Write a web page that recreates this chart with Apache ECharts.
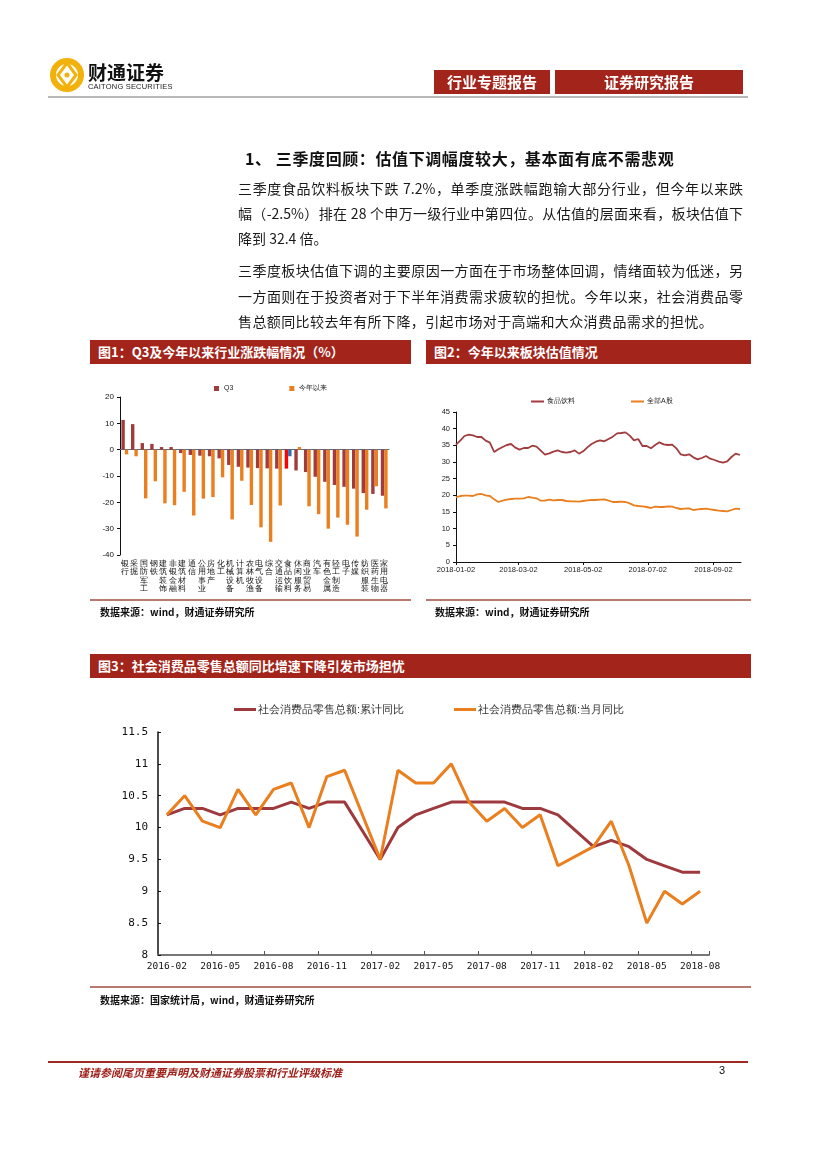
<!DOCTYPE html>
<html><head><meta charset="utf-8">
<script src="https://cdn.jsdelivr.net/npm/echarts@6/dist/echarts.min.js"></script>
<style>
body{margin:0;background:#fff;font-family:"Noto Sans CJK SC",sans-serif;}
#page{position:relative;width:827px;height:1170px;overflow:hidden;background:#fff;}
#chart{position:absolute;left:0;top:0;width:827px;height:1170px;}
.t{position:absolute;white-space:nowrap;z-index:2;}
.bar{position:absolute;background:#A3241B;color:#fff;font-weight:bold;font-size:13px;line-height:24px;z-index:2;}
.p{position:absolute;left:238px;width:505px;font-size:14px;line-height:20px;color:#1a1a1a;white-space:nowrap;z-index:2;}
.j{text-align:justify;text-align-last:justify;white-space:normal;}
.src{position:absolute;font-size:10px;font-weight:bold;color:#111;z-index:2;}
.sep{position:absolute;height:2px;background:#B97A6E;z-index:2;}
</style></head>
<body><div id="page">
<div id="chart"></div>

<div class="t" style="left:88px;top:61px;font-size:19px;line-height:21px;font-weight:bold;color:#111;">财通证券</div>
<div class="t" style="left:88px;top:82px;font-size:7.5px;line-height:9px;font-family:'Liberation Sans',Arial;color:#222;letter-spacing:0.2px;">CAITONG SECURITIES</div>
<div class="bar" style="left:434px;top:70px;width:116px;height:24px;text-align:center;font-size:15px;">行业专题报告</div>
<div class="bar" style="left:555px;top:70px;width:188px;height:24px;text-align:center;font-size:15px;">证券研究报告</div>
<div style="position:absolute;left:48px;top:96px;width:700px;height:2px;background:#B8B8B8;"></div>

<div class="t" style="left:245px;top:146px;font-size:16px;font-weight:bold;color:#111;letter-spacing:0.6px;">1、 三季度回顾：估值下调幅度较大，基本面有底不需悲观</div>

<div class="p j" style="top:178px;">三季度食品饮料板块下跌 7.2%，单季度涨跌幅跑输大部分行业，但今年以来跌</div>
<div class="p j" style="top:203px;">幅（-2.5%）排在 28 个申万一级行业中第四位。从估值的层面来看，板块估值下</div>
<div class="p" style="top:228px;">降到 32.4 倍。</div>
<div class="p j" style="top:260px;">三季度板块估值下调的主要原因一方面在于市场整体回调，情绪面较为低迷，另</div>
<div class="p j" style="top:286px;">一方面则在于投资者对于下半年消费需求疲软的担忧。今年以来，社会消费品零</div>
<div class="p" style="top:311px;letter-spacing:0.4px;">售总额同比较去年有所下降，引起市场对于高端和大众消费品需求的担忧。</div>

<div class="bar" style="left:90px;top:340px;width:321px;height:24px;"><span style="padding-left:8px;">图1：Q3及今年以来行业涨跌幅情况（%）</span></div>
<div class="bar" style="left:426px;top:340px;width:325px;height:24px;"><span style="padding-left:8px;">图2：今年以来板块估值情况</span></div>
<div class="sep" style="left:90px;top:599px;width:321px;"></div>
<div class="sep" style="left:426px;top:599px;width:325px;"></div>
<div class="src" style="left:100px;top:604px;">数据来源：wind，财通证券研究所</div>
<div class="src" style="left:435px;top:604px;">数据来源：wind，财通证券研究所</div>

<div class="bar" style="left:90px;top:654px;width:661px;height:24px;"><span style="padding-left:8px;">图3：社会消费品零售总额同比增速下降引发市场担忧</span></div>
<div class="sep" style="left:90px;top:986px;width:661px;"></div>
<div class="src" style="left:100px;top:992px;">数据来源：国家统计局，wind，财通证券研究所</div>

<div style="position:absolute;left:48px;top:1061px;width:700px;height:1.5px;background:#9E2A22;"></div>
<div class="t" style="left:78px;top:1064px;font-size:11px;font-weight:bold;font-style:italic;color:#A0201A;">谨请参阅尾页重要声明及财通证券股票和行业评级标准</div>
<div class="t" style="left:719px;top:1064px;font-size:11px;color:#111;font-family:'Liberation Sans',Arial;">3</div>
</div>
<script>
// ---------- Chart 1 data ----------
const industries = ['银行','采掘','国防军工','钢铁','建筑装饰','非银金融','建筑材料','通信','公用事业','房地产','化工','机械设备','计算机','农林牧渔','电气设备','综合','交通运输','食品饮料','休闲服务','商业贸易','汽车','有色金属','轻工制造','电子','传媒','纺织服装','医药生物','家用电器'];
const q3Change = [11.3, 9.7, 2.5, 2.2, 1.0, 1.0, -1.3, -2.0, -2.3, -2.5, -3.3, -5.8, -6.5, -6.8, -7.0, -7.1, -7.2, -7.2, -7.9, -8.5, -10.3, -12.2, -13.4, -14.1, -14.8, -16.5, -16.8, -17.5];
const ytdChange = [-1.8, -2.5, -18.5, -12.0, -20.4, -21.1, -16.0, -25.0, -18.6, -18.0, -10.5, -26.5, -11.8, -21.0, -29.5, -35.0, -21.2, -2.5, 1.0, -21.5, -24.5, -30.0, -25.8, -28.5, -33.0, -22.8, -13.9, -22.3];
const chart1YTicks = [-40, 20, 10];

// ---------- Chart 2 data ----------
const peDates = ['2018-01-02','2018-01-06','2018-01-10','2018-01-14','2018-01-18','2018-01-22','2018-01-26','2018-01-30','2018-02-03','2018-02-07','2018-02-11','2018-02-15','2018-02-19','2018-02-23','2018-02-27','2018-03-03','2018-03-07','2018-03-11','2018-03-15','2018-03-19','2018-03-23','2018-03-27','2018-03-31','2018-04-04','2018-04-08','2018-04-12','2018-04-16','2018-04-20','2018-04-24','2018-04-28','2018-05-02','2018-05-06','2018-05-10','2018-05-14','2018-05-18','2018-05-22','2018-05-26','2018-05-30','2018-06-03','2018-06-07','2018-06-11','2018-06-15','2018-06-19','2018-06-23','2018-06-27','2018-07-01','2018-07-05','2018-07-09','2018-07-13','2018-07-17','2018-07-21','2018-07-25','2018-07-29','2018-08-02','2018-08-06','2018-08-10','2018-08-14','2018-08-18','2018-08-22','2018-08-26','2018-08-30','2018-09-03','2018-09-07','2018-09-11','2018-09-15','2018-09-19','2018-09-23','2018-09-27'];
const peFood = [35.2,36.4,37.8,38.2,38.0,37.5,37.5,36.4,35.8,33.0,33.8,34.5,35.1,35.4,34.3,33.7,34.2,34.2,34.9,34.6,33.4,32.2,32.6,33.1,33.5,33.0,32.8,33.0,33.5,32.5,33.2,34.4,35.4,36.1,36.5,36.2,36.9,37.6,38.6,38.7,38.9,37.9,36.5,36.9,34.8,34.8,34.1,35.1,35.9,35.3,35.1,35.2,34.1,32.3,32.0,32.3,31.4,30.8,31.2,31.8,31.0,30.6,30.1,29.8,30.2,31.5,32.5,32.1];
const peAll = [19.4,19.8,19.9,19.9,19.8,20.3,20.4,20.0,19.8,18.8,18.0,18.4,18.7,18.9,19.0,19.0,19.1,19.5,19.3,19.1,18.4,18.4,18.7,18.5,18.6,18.6,18.3,18.2,18.2,18.1,18.3,18.5,18.6,18.6,18.7,18.8,18.4,18.0,18.0,18.1,18.0,17.6,17.0,16.8,16.7,16.5,16.2,16.6,16.5,16.5,16.7,16.6,16.2,15.9,16.0,16.1,15.6,15.8,15.9,16.0,15.8,15.6,15.4,15.3,15.2,15.6,16.0,15.9];
const peTickDates = ['2018-01-02','2018-03-02','2018-05-02','2018-07-02','2018-09-02'];
const peRange = ['2018-01-02','2018-09-28'];

// ---------- Chart 3 data ----------
const months = ['2016-02','2016-03','2016-04','2016-05','2016-06','2016-07','2016-08','2016-09','2016-10','2016-11','2016-12','2017-01','2017-02','2017-03','2017-04','2017-05','2017-06','2017-07','2017-08','2017-09','2017-10','2017-11','2017-12','2018-01','2018-02','2018-03','2018-04','2018-05','2018-06','2018-07','2018-08'];
const retailCum = [10.2,10.3,10.3,10.2,10.3,10.3,10.3,10.4,10.3,10.4,10.4,null,9.5,10.0,10.2,10.3,10.4,10.4,10.4,10.4,10.3,10.3,10.2,null,9.7,9.8,9.7,9.5,9.4,9.3,9.3];
const retailMonth = [10.2,10.5,10.1,10.0,10.6,10.2,10.6,10.7,10.0,10.8,10.9,null,9.5,10.9,10.7,10.7,11.0,10.4,10.1,10.3,10.0,10.2,9.4,null,9.7,10.1,9.4,8.5,9.0,8.8,9.0];

const C_DARK = '#A23B3D', C_ORANGE = '#E97F1E';
const highlightIdx = industries.indexOf('食品饮料');
const DAY = 86400000;
const toTs = s => { const p = s.split('-').map(Number); return Date.UTC(p[0], p[1]-1, p[2]); };
const T0 = toTs(peRange[0]);
const toDay = s => Math.round((toTs(s) - T0) / DAY);
const pad = n => (n < 10 ? '0' : '') + n;
const dayLabel = v => { const d = new Date(T0 + v * DAY); return d.getUTCFullYear()+'-'+pad(d.getUTCMonth()+1)+'-'+pad(d.getUTCDate()); };

const chart = echarts.init(document.getElementById('chart'), null, {renderer:'canvas'});
const smallFont = {fontFamily:'Liberation Sans, Arial', fontSize:8, color:'#111'};

chart.setOption({
  animation:false,
  backgroundColor:'transparent',
  graphic:[
    {type:'circle', shape:{cx:67, cy:75, r:14}, style:{fill:'none', stroke:'#F3B10B', lineWidth:6}},
    {type:'polygon', shape:{points:[[67,63],[76,75],[67,87],[58,75]]}, style:{fill:'none', stroke:'#F3B10B', lineWidth:3}},
    {type:'circle', shape:{cx:67, cy:75, r:2.5}, style:{fill:'#F3B10B'}}
  ],
  legend:[
    {data:['Q3','今年以来'], left:209, top:380, icon:'rect', itemWidth:5, itemHeight:5, itemGap:56,
      textStyle:{fontSize:7, color:'#222'}},
    {data:['食品饮料','全部A股'], left:526, top:393, icon:'rect', itemWidth:13, itemHeight:2, itemGap:56, itemStyle:{},
      textStyle:{fontSize:7, color:'#222', padding:[0,0,0,-2]}},
    {data:['社会消费品零售总额:累计同比','社会消费品零售总额:当月同比'], left:229, top:699, icon:'rect', itemWidth:22, itemHeight:3, itemGap:50,
      textStyle:{fontSize:11, color:'#333', padding:[0,0,0,-3]}}
  ],
  grid:[
    {left:120, top:397, width:269, height:158},
    {left:456, top:412, width:285, height:150},
    {left:158, top:732, width:551, height:223}
  ],
  xAxis:[
    {type:'category', gridIndex:0, data:industries, axisLine:{onZero:true, lineStyle:{color:'#5a6a80', width:1}},
      axisTick:{show:false}, axisLabel:{show:false}},
    {type:'category', gridIndex:0, data:industries, position:'bottom', axisLine:{show:false, onZero:false}, axisTick:{show:false},
      axisLabel:{interval:0, margin:4, fontSize:8, lineHeight:8.6, color:'#111', formatter:v => v.split('').join('\n')}},
    {type:'value', gridIndex:1, min:0, max:toDay(peRange[1]),
      axisLine:{lineStyle:{color:'#111', width:1}}, splitLine:{show:false},
      axisTick:{show:true, length:3, customValues:peTickDates.map(toDay)},
      axisLabel:{customValues:peTickDates.map(toDay), margin:4, fontFamily:'Liberation Sans, Arial', fontSize:7.5, color:'#222',
        formatter:dayLabel}},
    {type:'category', gridIndex:2, data:months, boundaryGap:true,
      axisLine:{lineStyle:{color:'#777', width:2}},
      axisTick:{show:true, inside:true, length:4, interval:2, lineStyle:{color:'#555'}},
      axisLabel:{interval:2, margin:7, fontFamily:'DejaVu Sans Mono', fontSize:9.5, color:'#111'}}
  ],
  yAxis:[
    {type:'value', gridIndex:0, min:chart1YTicks[0], max:chart1YTicks[1], interval:chart1YTicks[2],
      axisLine:{show:true, lineStyle:{color:'#111'}}, axisTick:{show:true, length:3}, splitLine:{show:false},
      axisLabel:Object.assign({margin:6}, smallFont)},
    {type:'value', gridIndex:1, min:0, max:45, interval:5,
      axisLine:{show:true, lineStyle:{color:'#111'}}, axisTick:{show:true, length:3}, splitLine:{show:false},
      axisLabel:{margin:6, fontFamily:'Liberation Sans, Arial', fontSize:7.5, color:'#222'}},
    {type:'value', gridIndex:2, min:8, max:11.5, interval:0.5,
      axisLine:{show:true, lineStyle:{color:'#111', width:1.5}}, axisTick:{show:true, inside:true, length:3}, splitLine:{show:false},
      axisLabel:{margin:10, fontFamily:'DejaVu Sans Mono', fontSize:11, color:'#111'}}
  ],
  series:[
    {name:'Q3', type:'bar', xAxisIndex:0, yAxisIndex:0, barWidth:3.4, barGap:'0%',
      itemStyle:{color:C_DARK},
      data:q3Change.map((v,i) => i===highlightIdx ? {value:v, itemStyle:{color:'#FF0000'}} : v)},
    {name:'今年以来', type:'bar', xAxisIndex:0, yAxisIndex:0, barWidth:3.4, barGap:'0%',
      itemStyle:{color:C_ORANGE},
      data:ytdChange.map((v,i) => i===highlightIdx ? {value:v, itemStyle:{color:'#2F6DB5'}} : v)},
    {name:'食品饮料', type:'line', xAxisIndex:2, yAxisIndex:1, showSymbol:false, symbol:'none',
      lineStyle:{width:1.8, color:C_DARK}, itemStyle:{color:C_DARK},
      data:peDates.map((d,i) => [toDay(d), peFood[i]])},
    {name:'全部A股', type:'line', xAxisIndex:2, yAxisIndex:1, showSymbol:false, symbol:'none',
      lineStyle:{width:1.8, color:C_ORANGE}, itemStyle:{color:C_ORANGE},
      data:peDates.map((d,i) => [toDay(d), peAll[i]])},
    {name:'社会消费品零售总额:累计同比', type:'line', xAxisIndex:3, yAxisIndex:2, showSymbol:false, symbol:'none', connectNulls:true,
      lineStyle:{width:3, color:'#9E3A3E'}, itemStyle:{color:'#9E3A3E'}, data:retailCum},
    {name:'社会消费品零售总额:当月同比', type:'line', xAxisIndex:3, yAxisIndex:2, showSymbol:false, symbol:'none', connectNulls:true,
      lineStyle:{width:3, color:C_ORANGE}, itemStyle:{color:C_ORANGE}, data:retailMonth}
  ]
});
</script>
</body></html>
